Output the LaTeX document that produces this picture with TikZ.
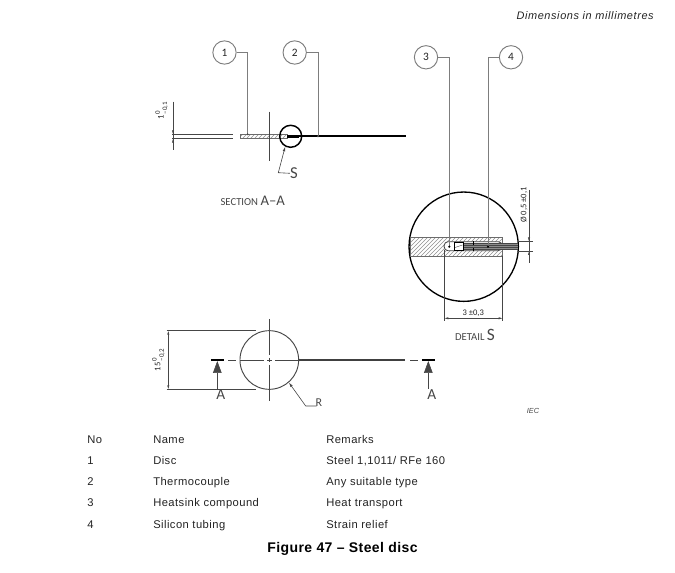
\documentclass[tikz,border=0pt]{standalone}
\usepackage{fontspec}
\setmainfont{Liberation Sans}
\setsansfont{Liberation Sans}
\newfontfamily\drawfont{Carlito}
\usetikzlibrary{arrows.meta, positioning, patterns}
\definecolor{lineColor}{RGB}{70, 70, 70}
\definecolor{leadColor}{RGB}{125, 125, 125}
\definecolor{inkColor}{RGB}{35, 35, 35}
\newcommand{\tolstack}[3]{#1\,\rlap{\raisebox{2.8pt}{\fontsize{5.2}{5}\selectfont #2}}\raisebox{-2.6pt}{\fontsize{5.2}{5}\selectfont #3}}
\tikzset{
    % --- callouts ---
    styleBall/.style={
        circle, draw=leadColor, line width=0.7pt, fill=white,
        minimum size=17.5pt, inner sep=0pt, text=inkColor,
        font=\drawfont\fontsize{8.5}{9}\selectfont
    },
    leader/.style={draw=leadColor, line width=0.7pt},
    % --- drawing lines ---
    thin part/.style={draw=lineColor, line width=0.45pt},
    thick part/.style={draw=black, line width=1.3pt},
    ring/.style={draw=black, line width=1.1pt},
    centerline/.style={draw=lineColor, line width=0.35pt},
    dim/.style={
        draw=lineColor, line width=0.35pt,
        {Latex[length=3pt, width=1.6pt]}-{Latex[length=3pt, width=1.6pt]}
    },
    dimhead/.style={draw=lineColor, line width=0.35pt, -{Latex[length=3pt, width=1.6pt]}},
    pointer/.style={
        draw=lineColor, line width=0.45pt, -{Latex[length=3.5pt, width=2pt]}
    },
    hatched/.style={
        draw=lineColor!80, line width=0.4pt,
        pattern=north east lines, pattern color=lineColor!60
    },
    sectionTip/.style={
        draw=lineColor, line width=0.4pt, -{Triangle[length=9pt, width=6.5pt]}
    },
    % --- text ---
    drawText/.style={font=\drawfont\fontsize{#1}{#1}\selectfont, text=lineColor, inner sep=0pt},
    drawText/.default=9,
    dimText/.style={font=\drawfont\fontsize{6.4}{6}\selectfont, text=inkColor, inner sep=0pt},
    cell/.style={anchor=base west, font=\fontsize{8.4}{10}\selectfont\addfontfeature{LetterSpace=4}, text=inkColor, inner sep=0pt}
}

\begin{document}
\begin{tikzpicture}[x=0.75pt, y=-0.75pt]
	\useasboundingbox (0,0) rectangle (675,573);

	% =========================================================
	% 1. Section A-A
	% =========================================================
	\node [styleBall] (b1) at (224.5,52.5) {1};
	\node [styleBall] (b2) at (294.7,52.5) {2};
	\coordinate (p1) at (247.7,134.3);
	\coordinate (p2) at (318,136.3);

	\node [hatched, inner sep=0pt, minimum width=35.25pt, minimum height=3.3pt] (disc) at (263.5,136.5) {};
	\coordinate (wireA) at (287.3,136.3);
	\coordinate (wireB) at (299.3,136.3);
	\coordinate (wireC) at (405.7,136.3);
	\draw [thick part, line width=2.4pt] (wireA) -- (wireB);
	\draw [thick part] (wireB) -- (wireC);
	\draw [centerline] (269.3,111.7) -- (269.3,160.7);
	\node [circle, ring, minimum size=16.5pt, inner sep=0pt] (ringS) at (290.7,136.3) {};

	\draw [leader] (b1.east) -| (p1);
	\draw [leader] (b2.east) -| (p2);
	\fill [lineColor] (p1) circle (0.8pt);
	\fill [lineColor] (p2) circle (0.8pt);

	% thickness dimension
	\coordinate (t1) at (172,134.3);
	\coordinate (t2) at (172,138.7);
	\draw [thin part] (t1) -- (233,134.3);
	\draw [thin part] (t2) -- (233,138.7);
	\draw [centerline] (173,101.7) -- (173,150);
	\draw [dimhead] (173,126) -- (173,134.3);
	\draw [dimhead] (173,147) -- (173,138.7);
	\node [dimText, rotate=90] (tolT) at (161.7,111) {\tolstack{1}{0}{–0,1}};

	\node [drawText=12.5] (labS) at (294,173.3) {S};
	\coordinate (bendS) at (278.3,172.7);
	\draw [pointer] (labS.west) -- (bendS) -- (ringS.-118);
	\node [drawText=8] (capA) at (252.7,201) {SECTION {\fontsize{11}{11}\selectfont A–A}};

	% =========================================================
	% 2. Detail S
	% =========================================================
	\node [styleBall] (b3) at (426,57.3) {3};
	\node [styleBall] (b4) at (511,57.3) {4};
	\coordinate (p3) at (449.3,246.7);
	\coordinate (p4) at (488,246.7);

	\node [circle, ring, line width=1pt, minimum size=82pt, inner sep=0pt] (ringD) at (463.7,246.7) {};
	\node [hatched, minimum width=69.5pt, minimum height=14pt, inner sep=0pt] (body) at (456.35,246.7) {};
	% tubing
	\node [rectangle, rounded corners=3pt, draw=lineColor, fill=white, line width=0.6pt,
		minimum width=43.5pt, minimum height=6.8pt, inner sep=0pt] (tube) at (473.1,246.2) {};
	\fill [black!45] (463.3,243.4) rectangle (518.3,249.2);
	\foreach \y in {243.4,245.3,247.3,249.2} {
			\draw [lineColor, line width=0.35pt] (463.3,\y) -- (518.3,\y);
		}
	\node [draw=black, fill=white, line width=0.7pt, minimum width=6.8pt, minimum height=5.5pt, inner sep=0pt] (junction) at (458.8,246.4) {};
	\draw [lineColor, line width=0.3pt] (455,247.5) -- (462.5,245);
	\draw [black, line width=0.5pt, densely dashed] (473.3,241.5) -- (473.3,251);

	\draw [leader] (b3.east) -| (p3);
	\draw [leader] (b4.west) -| (p4);
	\fill [black] (p3) circle (0.9pt);
	\fill [black] (p4) circle (0.9pt);

	% dimensions of the detail
	\coordinate (w1) at (444.3,318.3);
	\coordinate (w2) at (502.7,318.3);
	\draw [centerline] (444.3,250) -- (444.3,320.7);
	\draw [centerline] (502.7,256) -- (502.7,320.7);
	\draw [dim] (w1) -- (w2);
	\node [dimText] (tolW) at (473.3,313.3) {3 ±0,3};

	\draw [centerline] (518,241.5) -- (533,241.5);
	\draw [centerline] (518,251) -- (533,251);
	\draw [centerline] (529,190) -- (529,262.7);
	\draw [dimhead] (529,232) -- (529,241.5);
	\draw [dimhead] (529,260) -- (529,251);
	\node [dimText, rotate=90] (tolD) at (524,205) {Ø 0,5 ±0,1};
	\node [drawText=8] (capS) at (475,335) {DETAIL {\fontsize{13}{13}\selectfont S}};

	% =========================================================
	% 3. Plan view
	% =========================================================
	\node [circle, thin part, line width=0.7pt, minimum size=44pt, inner sep=0pt] (disk) at (269.3,360) {};
	\draw [centerline] (269.3,319) -- (269.3,355);
	\draw [centerline] (269.3,358) -- (269.3,362);
	\draw [centerline] (269.3,365) -- (269.3,400.7);
	\draw [centerline] (228,360) -- (236,360);
	\draw [centerline] (240,360) -- (264,360);
	\draw [centerline] (267,360) -- (272,360);
	\draw [centerline] (275,360) -- (299,360);
	\draw [draw=black!75, line width=1.1pt] (disk.east) -- (405,360);
	\draw [centerline] (410,360) -- (418,360);

	\foreach \name/\x/\lab in {secL/217.3/220.7, secR/428.3/431.7} {
			\coordinate (\name) at (\x,361);
			\coordinate (\name_foot) at (\x,389);
			\draw [black, line width=1.1pt] (\x-6.5,360) -- (\x+6.5,360);
			\draw [sectionTip] (\name_foot) -- (\name);
			\node [drawText=11.5] (\name_lab) at (\lab,395) {A};
		}

	% diameter dimension
	\coordinate (h1) at (168.3,330.7);
	\coordinate (h2) at (168.3,389.3);
	\draw [centerline] (166.7,330.7) -- (256,330.7);
	\draw [centerline] (166.7,389.3) -- (256,389.3);
	\draw [dim] (h1) -- (h2);
	\node [dimText, rotate=90] (tolH) at (158.5,360) {\tolstack{15}{0}{–0,2}};

	\node [drawText=9] (labR) at (319,403) {R};
	\coordinate (bendR) at (305.7,406);
	\coordinate (endR) at (316.7,406);
	\draw [pointer] (endR) -- (bendR) -- (disk.-49);

	% =========================================================
	% 4. Notes
	% =========================================================
	\node [anchor=base east, font=\itshape\fontsize{8.2}{9}\selectfont\addfontfeature{LetterSpace=5.5}, text=inkColor, inner sep=0pt] (unit) at (654,20) {Dimensions in millimetres};
	\node [font=\itshape\fontsize{5.5}{7}\selectfont, text=lineColor, inner sep=0pt] (iec) at (533,411) {IEC};

	% =========================================================
	% 5. Table
	% =========================================================
	\node [cell] (h_no) at (87,444) {No};
	\node [cell] (h_na) at (153,444) {Name};
	\node [cell] (h_re) at (326,444) {Remarks};

	\node [cell] (r1_no) at (87,465) {1};
	\node [cell] (r1_na) at (153,465) {Disc};
	\node [cell] (r1_re) at (326,465) {Steel 1,1011/ RFe 160};

	\node [cell] (r2_no) at (87,486) {2};
	\node [cell] (r2_na) at (153,486) {Thermocouple};
	\node [cell] (r2_re) at (326,486) {Any suitable type};

	\node [cell] (r3_no) at (87,507) {3};
	\node [cell] (r3_na) at (153,507) {Heatsink compound};
	\node [cell] (r3_re) at (326,507) {Heat transport};

	\node [cell] (r4_no) at (87,528) {4};
	\node [cell] (r4_na) at (153,528) {Silicon tubing};
	\node [cell] (r4_re) at (326,528) {Strain relief};

	\node [font=\bfseries\fontsize{10.5}{11}\selectfont\addfontfeature{LetterSpace=3}, text=black, inner sep=0pt] (title) at (342.5,548.5) {Figure 47 – Steel disc};

\end{tikzpicture}
\end{document}
